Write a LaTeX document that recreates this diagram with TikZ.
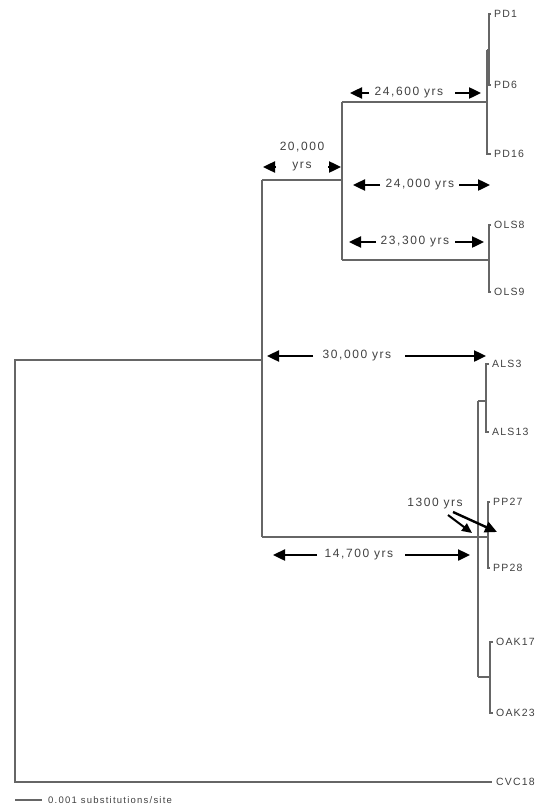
\documentclass[tikz,border=0pt]{standalone}
\usepackage{fontspec}
\setmainfont{Liberation Sans}
\newfontfamily\labfont{Liberation Sans}[LetterSpace=13]
\newfontfamily\tipfont{Liberation Sans}[LetterSpace=11]
\usetikzlibrary{arrows.meta}
\begin{document}
\begin{tikzpicture}[x=1pt,y=-1pt,
  branch/.style={draw=black!60, line width=1.2pt},
  tip/.style={anchor=west, inner sep=0pt, font=\tipfont\fontsize{10.5}{12}\selectfont, text=black!75},
  dimlbl/.style={inner sep=0pt, font=\labfont\fontsize{12}{14}\selectfont, text=black!75},
  scalelbl/.style={anchor=west, inner sep=0pt, font=\labfont\fontsize{9.5}{11}\selectfont, text=black!75},
  dimarrow/.style={line width=2.4pt, -{Triangle[length=12pt,width=11pt]}},
  smallarrow/.style={line width=2pt, -{Triangle[length=10pt,width=9pt]}},
]
\useasboundingbox (0,0) rectangle (541,808);

% tip labels
\node[tip] (PD1)   at (494,14)  {PD1};
\node[tip] (PD6)   at (494,85)  {PD6};
\node[tip] (PD16)  at (494,154) {PD16};
\node[tip] (OLS8)  at (494,225) {OLS8};
\node[tip] (OLS9)  at (494,292) {OLS9};
\node[tip] (ALS3)  at (492,364) {ALS3};
\node[tip] (ALS13) at (492,432) {ALS13};
\node[tip] (PP27)  at (493,502) {PP27};
\node[tip] (PP28)  at (493,568) {PP28};
\node[tip] (OAK17) at (496,642) {OAK17};
\node[tip] (OAK23) at (496,713) {OAK23};
\node[tip] (CVC18) at (496,782) {CVC18};

% internal nodes
\coordinate (n0)    at (15,360);
\coordinate (nA)    at (262,360);
\coordinate (nB)    at (342,180);
\coordinate (nPD)   at (487,102);
\coordinate (nPD16) at (489,50);
\coordinate (nOLS)  at (489,260);
\coordinate (nC)    at (478,537);
\coordinate (nALS)  at (486,401);
\coordinate (nPP)   at (488,537);
\coordinate (nOAK)  at (490,677);

% branches
\draw[branch] (nA) -- (n0) |- ([xshift=-4pt]CVC18.west);
\draw[branch] (nA |- nB) -- (nA |- nC);
\draw[branch] (nA |- nB) -- (nB);
\draw[branch] (nA |- nC) -- (nC) -- (nPP);
\draw[branch] (nB |- nPD) -- (nB |- nOLS);
\draw[branch] (nB |- nPD) -- (nPD);
\draw[branch] (nB |- nOLS) -- (nOLS);
\draw[branch] (nPD |- nPD16) -- (nPD |- PD16.west) -- ([xshift=-3pt]PD16.west);
\draw[branch] (nPD |- nPD16) -- (nPD16);
\draw[branch] ([xshift=-3pt]PD1.west) -| (nPD16) |- ([xshift=-3pt]PD6.west);
\draw[branch] ([xshift=-3pt]OLS8.west) -| (nOLS) |- ([xshift=-3pt]OLS9.west);
\draw[branch] ([xshift=-3pt]ALS3.west) -| (nALS) |- ([xshift=-3pt]ALS13.west);
\draw[branch] (nC |- nALS) -- (nC |- nOAK);
\draw[branch] (nC |- nALS) -- (nALS);
\draw[branch] (nC |- nOAK) -- (nOAK);
\draw[branch] ([xshift=-3pt]PP27.west) -| (nPP) |- ([xshift=-3pt]PP28.west);
\draw[branch] ([xshift=-3pt]OAK17.west) -| (nOAK) |- ([xshift=-3pt]OAK23.west);

% time annotations
\node[dimlbl] (T246) at (409,93) {24,600 yrs};
\coordinate (T246ls) at (369,93);  \coordinate (T246lt) at (350,93);
\coordinate (T246rs) at (455,93);  \coordinate (T246rt) at (481,93);
\draw[dimarrow] (T246ls) -- (T246lt);
\draw[dimarrow] (T246rs) -- (T246rt);

\node[dimlbl] (T240) at (420,185) {24,000 yrs};
\coordinate (T240ls) at (380,185); \coordinate (T240lt) at (353,185);
\coordinate (T240rs) at (459,185); \coordinate (T240rt) at (490,185);
\draw[dimarrow] (T240ls) -- (T240lt);
\draw[dimarrow] (T240rs) -- (T240rt);

\node[dimlbl] (T233) at (415,242) {23,300 yrs};
\coordinate (T233ls) at (376,242); \coordinate (T233lt) at (349,242);
\coordinate (T233rs) at (455,242); \coordinate (T233rt) at (484,242);
\draw[dimarrow] (T233ls) -- (T233lt);
\draw[dimarrow] (T233rs) -- (T233rt);

\node[dimlbl] (T300) at (357,356) {30,000 yrs};
\coordinate (T300ls) at (313,356); \coordinate (T300lt) at (267,356);
\coordinate (T300rs) at (405,356); \coordinate (T300rt) at (486,356);
\draw[dimarrow] (T300ls) -- (T300lt);
\draw[dimarrow] (T300rs) -- (T300rt);

\node[dimlbl] (T147) at (359,555) {14,700 yrs};
\coordinate (T147ls) at (317,555); \coordinate (T147lt) at (273,555);
\coordinate (T147rs) at (405,555); \coordinate (T147rt) at (470,555);
\draw[dimarrow] (T147ls) -- (T147lt);
\draw[dimarrow] (T147rs) -- (T147rt);

\node[dimlbl] (T200) at (302,147) {20,000};
\node[dimlbl] (T200y) at (302,167) {yrs};
\coordinate (T200ls) at (276,167); \coordinate (T200lt) at (263,167);
\coordinate (T200rs) at (328,167); \coordinate (T200rt) at (341,167);
\draw[dimarrow] (T200ls) -- (T200lt);
\draw[dimarrow] (T200rs) -- (T200rt);

\node[dimlbl] (T13) at (435,504) {1300 yrs};
\coordinate (T13a) at (448,515); \coordinate (T13at) at (472,533);
\coordinate (T13b) at (453,512); \coordinate (T13bt) at (497,532);
\draw[smallarrow] (T13a) -- (T13at);
\draw[dimarrow] (T13b) -- (T13bt);

% scale bar
\coordinate (sb1) at (15,800);
\coordinate (sb2) at (42,800);
\draw[branch] (sb1) -- (sb2);
\node[scalelbl] (SB) at (48,800) {0.001 substitutions/site};
\end{tikzpicture}
\end{document}
